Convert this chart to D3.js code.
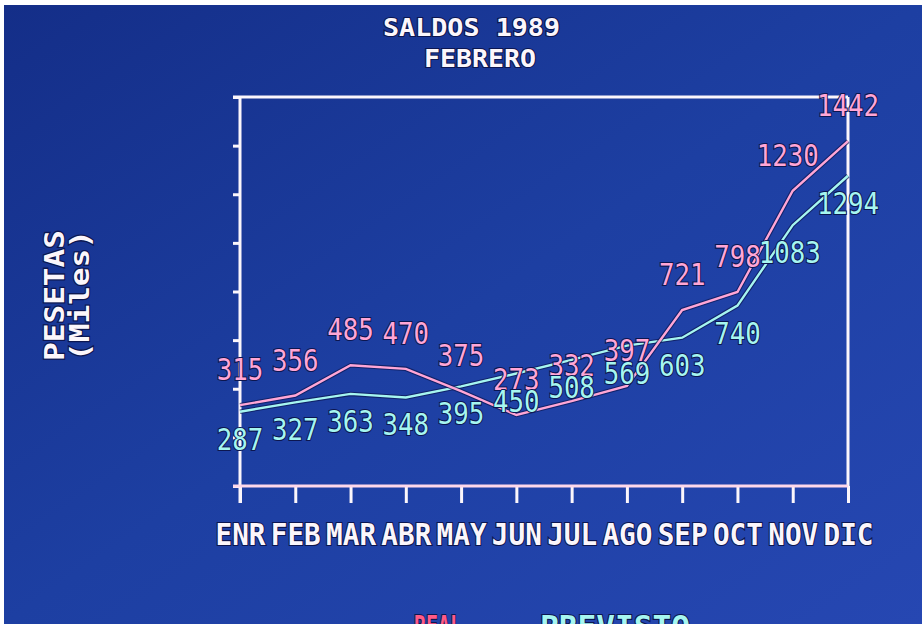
<!DOCTYPE html>
<html><head><meta charset="utf-8">
<script src="https://cdn.jsdelivr.net/npm/d3@7"></script>
<style>html,body{margin:0;padding:0;background:#fff;overflow:hidden}</style>
</head><body>
<svg id="c" width="922" height="624"></svg>
<script>
const months = ["ENR","FEB","MAR","ABR","MAY","JUN","JUL","AGO","SEP","OCT","NOV","DIC"];
const real = [315,356,485,470,375,273,332,397,721,798,1230,1442];
const previsto = [287,327,363,348,395,450,508,569,603,740,1083,1294];
const frameTicks = [0,1,2,3,4,5,6,7,8];
const titleLines = ["SALDOS 1989","FEBRERO"];
const yLabel = ["PESETAS","(Miles)"];
const legendNames = ["REAL","PREVISTO"];

const svg = d3.select("#c");
const defs = svg.append("defs");
const g = defs.append("linearGradient").attr("id","bg").attr("x1","0").attr("y1","0").attr("x2","1").attr("y2","1");
g.append("stop").attr("offset","0").attr("stop-color","#142e88");
g.append("stop").attr("offset","0.5").attr("stop-color","#1d3fa2");
g.append("stop").attr("offset","1").attr("stop-color","#2647b2");
svg.append("rect").attr("x",4).attr("y",5).attr("width",918).attr("height",619).attr("fill","url(#bg)");

const PINK = "#ffa6d6", CYAN = "#a6f6f0", WHITE = "#fbf6fb", SHADOW = "#0c1650";
const FONT = "'DejaVu Sans Mono', monospace";

const x = d3.scalePoint().domain(months).range([240, 848]);
const y = d3.scaleLinear().domain([-30, 1630]).range([486, 97]);
const fy = d3.scaleLinear().domain([0, 8]).range([486, 97]);

function txt(sel, s, opts) {
  const t = sel.append("text").text(s)
    .attr("font-family", FONT).attr("font-size", opts.size)
    .attr("font-weight", opts.weight || "normal")
    .attr("fill", opts.fill || WHITE)
    .attr("stroke", SHADOW).attr("stroke-width", 2.2).attr("paint-order", "stroke")
    .attr("text-anchor", opts.anchor || "start");
  if (opts.len) t.attr("textLength", opts.len).attr("lengthAdjust", "spacingAndGlyphs");
  if (opts.transform) t.attr("transform", opts.transform);
  else t.attr("x", opts.x).attr("y", opts.y);
  return t;
}

// Title
txt(svg, titleLines[0], {x: 383, y: 36, size: 25, weight: "bold", len: 177});
txt(svg, titleLines[1], {x: 424, y: 67, size: 25, weight: "bold", len: 112});

// Y label
txt(svg, yLabel[0], {transform: "translate(64,361) rotate(-90)", size: 26, weight: "bold", len: 131});
txt(svg, yLabel[1], {transform: "translate(89,361) rotate(-90)", size: 26, weight: "bold", len: 131});

// Frame
const frame = svg.append("g").attr("stroke", WHITE).attr("stroke-width", 3).attr("fill", "none");
frame.append("line").attr("x1", 233).attr("x2", 848).attr("y1", fy(8)).attr("y2", fy(8));
frame.append("line").attr("x1", 848).attr("x2", 848).attr("y1", fy(8)).attr("y2", fy(0));

// Left axis (ticks only)
const ax = svg.append("g").attr("transform", "translate(240,0)")
  .call(d3.axisLeft(fy).tickValues(frameTicks).tickSize(7).tickSizeOuter(0).tickFormat(""));
ax.select(".domain").remove();
ax.selectAll("line").attr("stroke", WHITE).attr("stroke-width", 3);
svg.append("line").attr("x1", 240).attr("x2", 240).attr("y1", fy(8)).attr("y2", 503)
  .attr("stroke", WHITE).attr("stroke-width", 3);

// Bottom axis
const bx = svg.append("g").attr("transform", "translate(0,486)")
  .call(d3.axisBottom(x).tickSize(17).tickSizeOuter(0).tickPadding(0));
bx.select(".domain").remove();
svg.append("line").attr("x1", 233).attr("x2", 848).attr("y1", 486).attr("y2", 486)
  .attr("stroke", "#ffd8ea").attr("stroke-width", 3);
bx.selectAll("line").attr("stroke", WHITE).attr("stroke-width", 3);
bx.selectAll("text").remove();
bx.selectAll(".tick").each(function(d) {
  txt(d3.select(this), d, {x: 0, y: 59, size: 30, weight: "bold", anchor: "middle", len: 50});
});

// Lines
const line = d3.line().x((d, i) => x(months[i])).y(d => y(d));
[[previsto, CYAN], [real, PINK]].forEach(([data, col]) => {
  svg.append("path").datum(data).attr("d", line).attr("fill", "none")
    .attr("stroke", SHADOW).attr("stroke-width", 4.5).attr("stroke-opacity", 0.7);
  svg.append("path").datum(data).attr("d", line).attr("fill", "none")
    .attr("stroke", col).attr("stroke-width", 2.4);
});

// Data labels
real.forEach((v, i) => {
  txt(svg, String(v), {x: x(months[i]) - (i === 10 ? 5 : 0), y: y(v) - 25, size: 30, anchor: "middle",
    fill: PINK, len: String(v).length * 15.5});
});
previsto.forEach((v, i) => {
  txt(svg, String(v), {x: x(months[i]) - (i === 10 ? 3 : 0), y: y(v) + 38, size: 30, anchor: "middle",
    fill: CYAN, len: String(v).length * 15.5});
});

// Legend (cut off at bottom)
txt(svg, legendNames[0], {x: 414, y: 637, size: 30, weight: "bold", fill: "#ff5a86", len: 48});
txt(svg, legendNames[1], {x: 540, y: 637, size: 30, weight: "bold", fill: CYAN, len: 150});
</script>
</body></html>
